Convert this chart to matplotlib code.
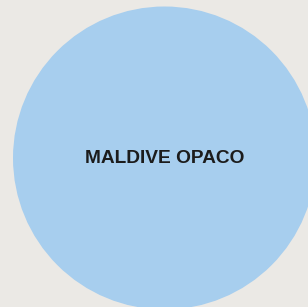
import matplotlib
matplotlib.use("Agg")
import matplotlib.pyplot as plt
from matplotlib.patches import Circle

# bubble data (single category)
labels = ["MALDIVE OPACO"]
x_pos = [164.5]
y_pos = [158]
radius = [151.5]

BG = "#EBE9E5"
BUBBLE = "#A7CEEE"

fig = plt.figure(figsize=(3.08, 3.07), dpi=100, facecolor=BG)
ax = fig.add_axes([0, 0, 1, 1])
ax.set_facecolor(BG)
ax.set_xlim(0, 308)
ax.set_ylim(307, 0)
ax.set_aspect("equal")
ax.axis("off")

for lab, x, y, r in zip(labels, x_pos, y_pos, radius):
    ax.add_patch(Circle((x, y), r, facecolor=BUBBLE, edgecolor="none"))
    # label sits on a baseline a little below the bubble centre
    ax.text(x, y + 5, lab, ha="center", va="baseline", fontsize=13.8, fontweight="bold",
            family="Liberation Sans", color="#1c1c1c")

fig.savefig("out.png", dpi=100, facecolor=BG)
